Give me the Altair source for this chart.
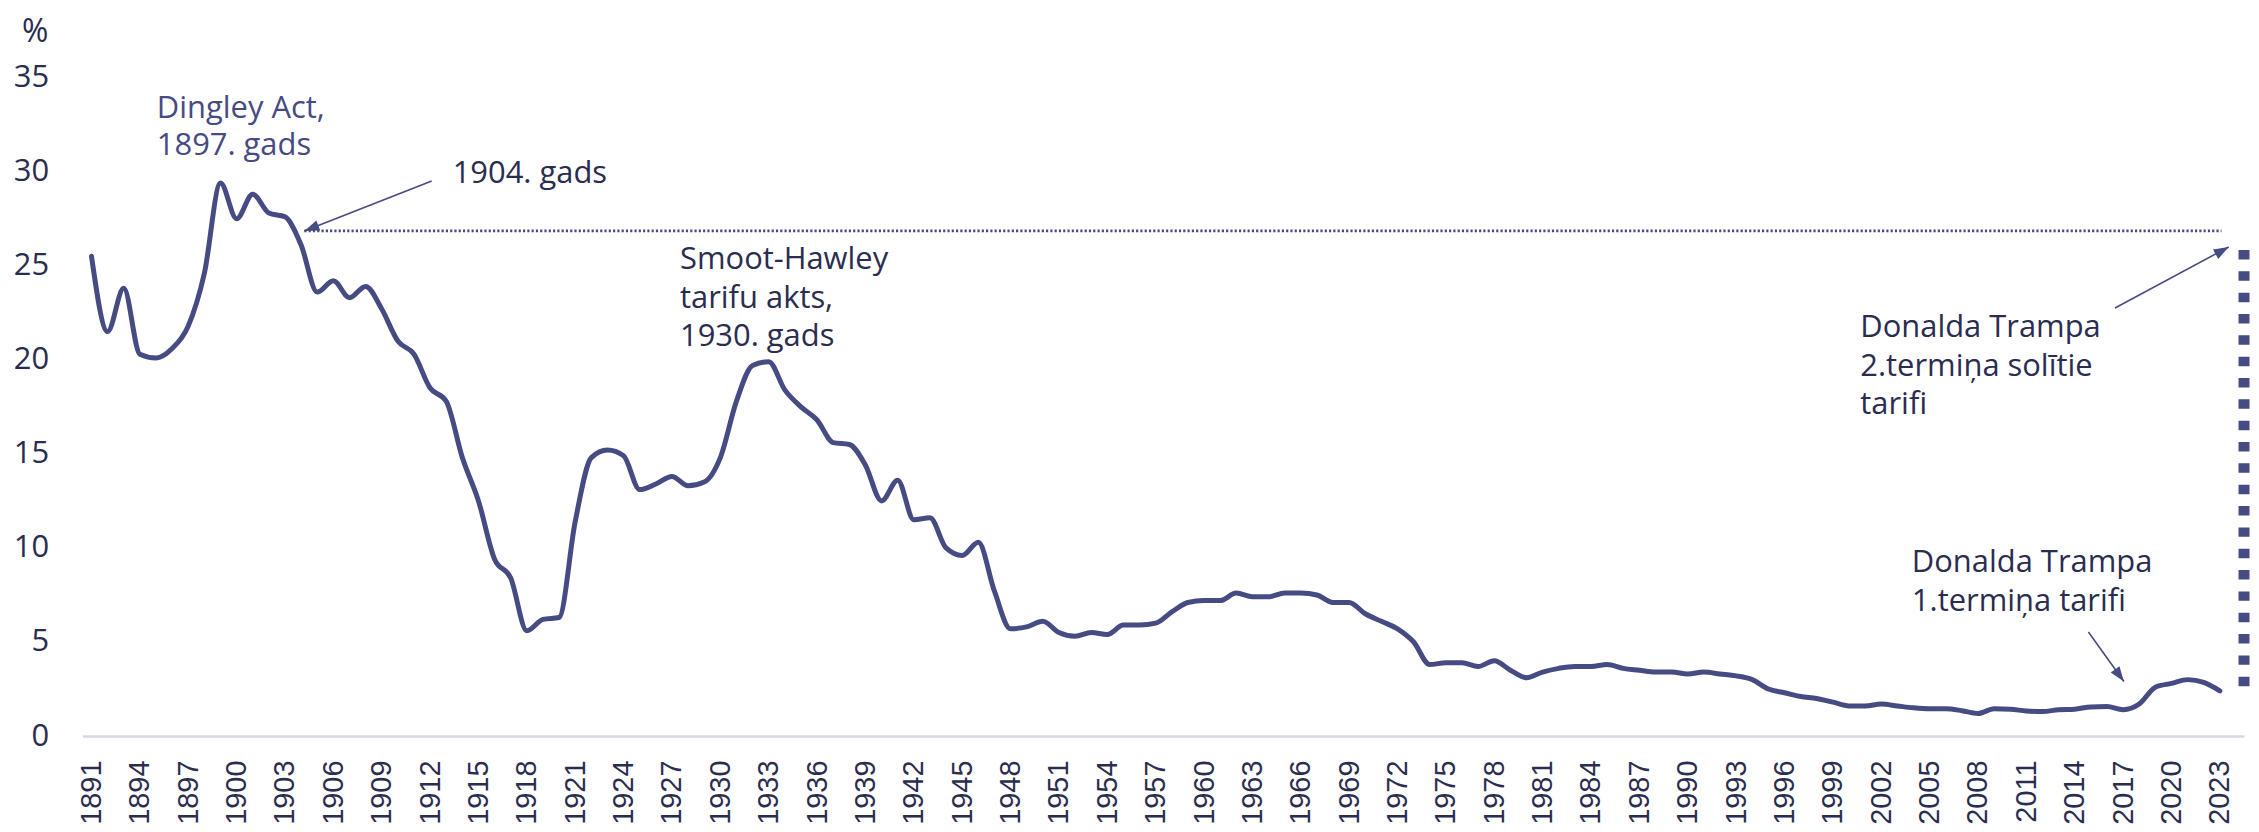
import altair as alt
import pandas as pd

# ---------------- data ----------------
years = list(range(1891, 2024))
tariff = [
    25.5, 21.5, 23.8, 20.3, 20.1, 20.6, 21.8, 24.6, 29.4, 27.5,   # 1891-1900
    28.8, 27.8, 27.6, 26.1, 23.6, 24.2, 23.3, 23.9, 22.7, 21.0,   # 1901-1910
    20.3, 18.5, 17.8, 14.8, 12.5, 9.4, 8.4, 5.6, 6.2, 6.3,        # 1911-1920
    11.4, 14.8, 15.2, 14.9, 13.1, 13.4, 13.8, 13.3, 13.5, 14.8,   # 1921-1930
    17.8, 19.7, 19.9, 18.4, 17.5, 16.8, 15.6, 15.5, 14.4, 12.5,   # 1931-1940
    13.6, 11.5, 11.6, 10.0, 9.6, 10.3, 7.7, 5.7, 5.8, 6.1,        # 1941-1950
    5.5, 5.3, 5.5, 5.4, 5.9, 5.9, 6.0, 6.6, 7.1, 7.2,             # 1951-1960
    7.2, 7.6, 7.4, 7.4, 7.6, 7.6, 7.5, 7.1, 7.1, 6.5,             # 1961-1970
    6.1, 5.7, 5.0, 3.8, 3.9, 3.9, 3.7, 4.0, 3.5, 3.1,             # 1971-1980
    3.4, 3.6, 3.7, 3.7, 3.8, 3.6, 3.5, 3.4, 3.4, 3.3,             # 1981-1990
    3.4, 3.3, 3.2, 3.0, 2.5, 2.3, 2.1, 2.0, 1.8, 1.6,             # 1991-2000
    1.6, 1.7, 1.6, 1.5, 1.45, 1.45, 1.35, 1.2, 1.45, 1.43,        # 2001-2010
    1.33, 1.3, 1.4, 1.43, 1.55, 1.57, 1.4, 1.7, 2.6, 2.8,         # 2011-2020
    3.0, 2.85, 2.4,                                               # 2021-2023
]
x_ticks = list(range(1891, 2024, 3))
y_ticks = [0, 5, 10, 15, 20, 25, 30, 35]

# reference levels
level_1904 = 26.85
level_1904_start = 1904.2
level_1904_end = 2023.1
proposed_year = 2024.5
proposed_low = 2.65
proposed_high = 26.4

# annotation texts (one row per line)
ann_text = ["Dingley Act,", "1897. gads", "1904. gads",
            "Smoot-Hawley", "tarifu akts,", "1930. gads",
            "Donalda Trampa", "2.termiņa solītie", "tarifi",
            "Donalda Trampa", "1.termiņa tarifi"]
ann_year = [1895.05, 1895.05, 1913.4,
            1927.5, 1927.5, 1927.5,
            2000.7, 2000.7, 2000.7,
            2003.9, 2003.9]
ann_val = [33.33, 31.37, 29.9,
           25.3, 23.23, 21.22,
           21.67, 19.64, 17.59,
           9.22, 7.15]
ann_group = ["light", "light", "dark",
             "dark", "dark", "dark",
             "dark", "dark", "dark",
             "dark", "dark"]

# arrows: start (year, value) -> tip (year, value), head rotation
arr_x1 = [1912.1, 2016.5, 2014.85]
arr_y1 = [29.5, 22.75, 5.53]
arr_x2 = [1904.2, 2023.55, 2017.05]
arr_y2 = [26.85, 26.0, 2.9]
arr_angle = [249, 61, 144]

LINE = "#474b83"
DARK = "#2b2d50"
AXIS = "#d6d6ea"

df = pd.DataFrame({"year": years, "value": tariff})
ann = pd.DataFrame({"text": ann_text, "year": ann_year, "value": ann_val, "grp": ann_group})
arr = pd.DataFrame({"x1": arr_x1, "y1": arr_y1, "x2": arr_x2, "y2": arr_y2, "ang": arr_angle})

xscale = alt.Scale(domain=[1890.44, 2024.5], nice=False, zero=False)
yscale = alt.Scale(domain=[0, 35], nice=False)

line = alt.Chart(df).mark_line(
    color=LINE, strokeWidth=5, interpolate="monotone", strokeCap="round", strokeJoin="round"
).encode(
    x=alt.X("year:Q", scale=xscale, axis=alt.Axis(
        values=x_ticks, format="d", labelAngle=270, title=None, grid=False,
        ticks=False, tickSize=0, domain=True, domainColor=AXIS, domainWidth=2.5,
        labelFont="Liberation Sans", labelFontSize=29, labelColor=DARK,
        labelPadding=24, labelOverlap=False, labelFlush=False)),
    y=alt.Y("value:Q", scale=yscale, axis=alt.Axis(
        values=y_ticks, title=None, grid=False, ticks=False, tickSize=0, domain=False,
        labelFont="Open Sans", labelFontSize=31, labelColor=DARK, labelPadding=34)),
)

hline = alt.Chart(pd.DataFrame({"x": [level_1904_start], "x2": [level_1904_end], "y": [level_1904]})).mark_rule(
    color=LINE, strokeWidth=2.7, strokeDash=[2.2, 2.1]
).encode(x=alt.X("x:Q", scale=xscale), x2="x2:Q", y=alt.Y("y:Q", scale=yscale))

vline = alt.Chart(pd.DataFrame({"x": [proposed_year], "y": [proposed_low], "y2": [proposed_high]})).mark_rule(
    color=LINE, strokeWidth=11, strokeDash=[9.5, 11.9], strokeCap="butt"
).encode(x=alt.X("x:Q", scale=xscale), y=alt.Y("y:Q", scale=yscale), y2="y2:Q")

shafts = alt.Chart(arr).mark_rule(color=LINE, strokeWidth=1.6).encode(
    x=alt.X("x1:Q", scale=xscale), y=alt.Y("y1:Q", scale=yscale), x2="x2:Q", y2="y2:Q")

heads = alt.Chart(arr).mark_point(
    shape="M0,0L0.36,1L-0.36,1Z", filled=True, size=900, color=LINE, opacity=1, strokeWidth=0
).encode(
    x=alt.X("x2:Q", scale=xscale), y=alt.Y("y2:Q", scale=yscale), angle=alt.Angle("ang:Q", scale=None))

texts = alt.Chart(ann).mark_text(
    align="left", baseline="middle", font="Open Sans", fontSize=31
).encode(
    x=alt.X("year:Q", scale=xscale), y=alt.Y("value:Q", scale=yscale), text="text:N",
    color=alt.Color("grp:N", scale=alt.Scale(domain=["light", "dark"], range=[LINE, DARK]), legend=None))

pct = alt.Chart(pd.DataFrame({"t": ["%"], "year": [1887.5], "value": [37.4]})).mark_text(
    align="center", baseline="middle", font="Open Sans", fontSize=32, color=DARK
).encode(x=alt.X("year:Q", scale=xscale), y=alt.Y("value:Q", scale=yscale), text="t:N")

chart = alt.layer(line, hline, vline, shafts, heads, texts, pct).properties(
    width=2168, height=660.4,
    autosize=alt.AutoSizeParams(type="none"),
    padding={"left": 74.7, "top": 68.6, "right": 7, "bottom": 96},
    background="white",
).configure_view(stroke=None)

chart.save("out.html", embed_options={"renderer": "svg", "actions": False})
